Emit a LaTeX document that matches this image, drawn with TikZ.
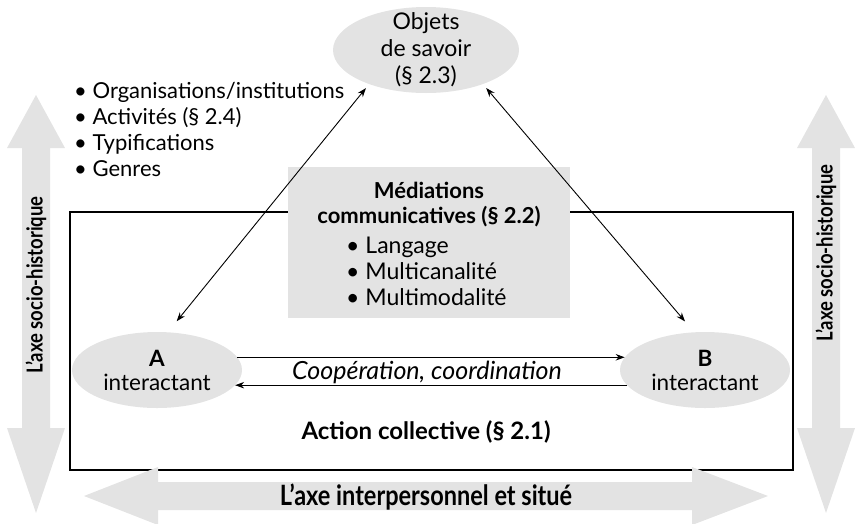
\documentclass[tikz,border=0pt]{standalone}
\usepackage{fontspec}
\setmainfont{Lato}
\newfontfamily\axisfont{Lato}[FakeStretch=0.84]
\usepackage{tikz}
\usetikzlibrary{arrows.meta,shapes.geometric,positioning}

\begin{document}
\begin{tikzpicture}[x=1pt,y=-1pt,line join=miter,
  txt/.style={font=\fontsize{22}{26}\selectfont,align=center,inner sep=0pt},
  bold/.style={font=\fontsize{22}{25}\selectfont\bfseries,align=center,inner sep=0pt},
  blob/.style={ellipse,fill=gray!22,inner sep=0pt,font=\fontsize{22.5}{24}\selectfont,align=center},
  medbox/.style={fill=gray!22,inner sep=0pt},
  frame/.style={draw,line width=1.1pt,inner sep=0pt},
  link/.style={line width=.9pt,-{Stealth[length=9pt,width=6.5pt]}},
  twoway/.style={line width=.9pt,{Stealth[length=9pt,width=6.5pt]}-{Stealth[length=9pt,width=6.5pt]}},
  band/.style={fill=gray!22},
  axis/.style={font=\axisfont\fontsize{22}{24}\selectfont\bfseries,inner sep=0pt}]
  \useasboundingbox (0,0) rectangle (856,523);

  % Collective action frame and mediation box.
  \node[frame,minimum width=723pt,minimum height=258pt] (act) at (431.5,341) {};
  \node[medbox,minimum width=282pt,minimum height=151pt] (med) at (429,242.5) {};
  \node[bold] (medtitle) at (429,205) {Médiations\\communicatives (§~2.2)};
  \node[txt,font=\fontsize{23}{26}\selectfont,align=left,anchor=west] (medlist) at (346,271)
    {\textbullet\ Langage\\\textbullet\ Multicanalité\\\textbullet\ Multimodalité};

  % Objects of knowledge and interactants.
  \node[blob,minimum width=186pt,minimum height=86pt] (obj) at (426,50) {};
  \node[txt,font=\fontsize{23}{27}\selectfont] (objtext) at (obj) {Objets\\de savoir\\(§~2.3)};
  \node[txt,align=left,anchor=west] (roles) at (74,129)
    {\textbullet\ Organisations/institutions\\\textbullet\ Activités (§~2.4)\\
     \textbullet\ Typifications\\\textbullet\ Genres};
  \node[blob,minimum width=170pt,minimum height=76pt] (A) at (157,370) {\textbf{A}\\interactant};
  \node[blob,minimum width=170pt,minimum height=76pt] (B) at (705,370) {\textbf{B}\\interactant};

  % Connectors.
  \draw[twoway,shorten <=5pt,shorten >=14pt] (obj.211) -- (A.74);
  \draw[twoway,shorten <=5pt,shorten >=14pt] (obj.329) -- (B.106);
  \draw[link] (A.9) -- (B.171);
  \draw[link] (B.191) -- (A.-11);
  \node[txt,font=\fontsize{25}{28}\selectfont\itshape] (coop) at (427,372) {Coopération, coordination};
  \node[bold,font=\fontsize{24}{26}\selectfont\bfseries] (acttext) at (426,432) {Action collective (§~2.1)};

  % The three axes.
  \foreach \cx in {36,826}
    \fill[band] (\cx,95) -- (\cx+29,148) -- (\cx+14,148) -- (\cx+14,428) -- (\cx+29,428)
      -- (\cx,513) -- (\cx-29,428) -- (\cx-14,428) -- (\cx-14,148) -- (\cx-29,148) -- cycle;
  \fill[band] (84,496) -- (158,467) -- (158,482) -- (692,482) -- (692,467) -- (768,496)
    -- (692,525) -- (692,510) -- (158,510) -- (158,525) -- cycle;
  \node[axis,rotate=90] (leftaxis) at (36,285) {L’axe socio-historique};
  \node[axis,rotate=90] (rightaxis) at (826,253) {L’axe socio-historique};
  \node[axis,font=\axisfont\fontsize{28}{30}\selectfont\bfseries] (botaxis) at (426,497)
    {L’axe interpersonnel et situé};
\end{tikzpicture}
\end{document}
